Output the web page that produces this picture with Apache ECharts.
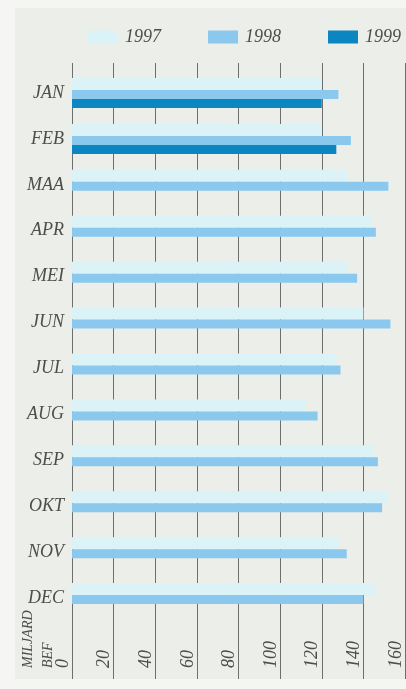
<!DOCTYPE html>
<html>
<head>
    <meta charset="utf-8">
    <title>Miljard BEF per maand</title>
    <script src="https://cdn.jsdelivr.net/npm/echarts@6/dist/echarts.min.js"></script>
    <style>
        html, body { margin: 0; padding: 0; background: #f5f6f3; }
    </style>
</head>
<body>
    <div id="chart" style="width: 406px;height:689px;"></div>
    <script type="text/javascript">
        var chart = echarts.init(document.getElementById('chart'));

        // data
        var months = ['JAN', 'FEB', 'MAA', 'APR', 'MEI', 'JUN', 'JUL', 'AUG', 'SEP', 'OKT', 'NOV', 'DEC'];
        var v1997 = [120, 120, 132, 144, 132, 140, 127, 112, 145, 152, 128, 146];
        var v1998 = [128, 134, 152, 146, 137, 153, 129, 118, 147, 149, 132, 140];
        var v1999 = [120, 127];
        var xTicks = [0, 20, 40, 60, 80, 100, 120, 140, 160];

        var serif = 'Liberation Serif';
        var grey = '#4d4d4d';

        var option = {
            backgroundColor: '#f5f6f3',
            animation: false,
            graphic: [{
                type: 'rect',
                z: -10,
                silent: true,
                shape: { x: 15, y: 8, width: 391, height: 671 },
                style: { fill: '#eceee9' }
            }],
            legend: {
                left: 88,
                top: 28,
                padding: 0,
                itemWidth: 30,
                itemHeight: 13,
                itemGap: 47,
                icon: 'rect',
                data: ['1997', '1998', '1999'],
                textStyle: {
                    fontFamily: serif,
                    fontStyle: 'italic',
                    fontSize: 18,
                    color: grey,
                    padding: [0, 0, 0, 2]
                }
            },
            grid: [
                // lines + tick labels
                { left: 72, right: 1, top: 63, bottom: 10 },
                // bars
                { left: 72, right: 1, top: 70, height: 551 }
            ],
            xAxis: [
                {
                    gridIndex: 0,
                    type: 'value',
                    min: xTicks[0],
                    max: xTicks[xTicks.length - 1],
                    interval: 20,
                    axisLine: { show: false },
                    axisTick: { show: false },
                    splitLine: { lineStyle: { color: '#6e6e6e', width: 1 } },
                    axisLabel: {
                        inside: true,
                        rotate: 90,
                        margin: 11,
                        align: 'left',
                        verticalAlign: 'bottom',
                        fontFamily: serif,
                        fontStyle: 'italic',
                        fontSize: 18,
                        color: grey,
                        formatter: function (v) {
                            if (v === 0) {
                                return '{u|MILJARD}\n{b|BEF}\n{z|0}';
                            }
                            return v;
                        },
                        rich: {
                            u: { fontFamily: serif, fontStyle: 'italic', fontSize: 14, color: grey, lineHeight: 28, align: 'left' },
                            b: { fontFamily: serif, fontStyle: 'italic', fontSize: 14, color: grey, lineHeight: 12, align: 'left' },
                            z: { fontFamily: serif, fontStyle: 'italic', fontSize: 18, color: grey, lineHeight: 18, align: 'left' }
                        }
                    }
                },
                {
                    gridIndex: 1,
                    type: 'value',
                    min: 0,
                    max: 160,
                    show: false
                }
            ],
            yAxis: [
                {
                    gridIndex: 0,
                    type: 'value',
                    show: false
                },
                {
                    gridIndex: 1,
                    type: 'category',
                    inverse: true,
                    data: months,
                    axisLine: { show: false },
                    axisTick: { show: false },
                    axisLabel: {
                        margin: 8,
                        fontFamily: serif,
                        fontStyle: 'italic',
                        fontSize: 18,
                        color: grey
                    }
                }
            ],
            series: [
                {
                    name: '1997',
                    type: 'bar',
                    xAxisIndex: 1,
                    yAxisIndex: 1,
                    barWidth: 12,
                    barGap: '0%',
                    itemStyle: { color: '#dbf2f7' },
                    data: v1997
                },
                {
                    name: '1998',
                    type: 'bar',
                    xAxisIndex: 1,
                    yAxisIndex: 1,
                    barWidth: 9,
                    barGap: '0%',
                    itemStyle: { color: '#8ac9ed' },
                    data: v1998
                },
                {
                    name: '1999',
                    type: 'bar',
                    xAxisIndex: 1,
                    yAxisIndex: 1,
                    barWidth: 9,
                    barGap: '0%',
                    itemStyle: { color: '#0b86c1' },
                    data: v1999
                }
            ]
        };

        chart.setOption(option);
    </script>
</body>
</html>
